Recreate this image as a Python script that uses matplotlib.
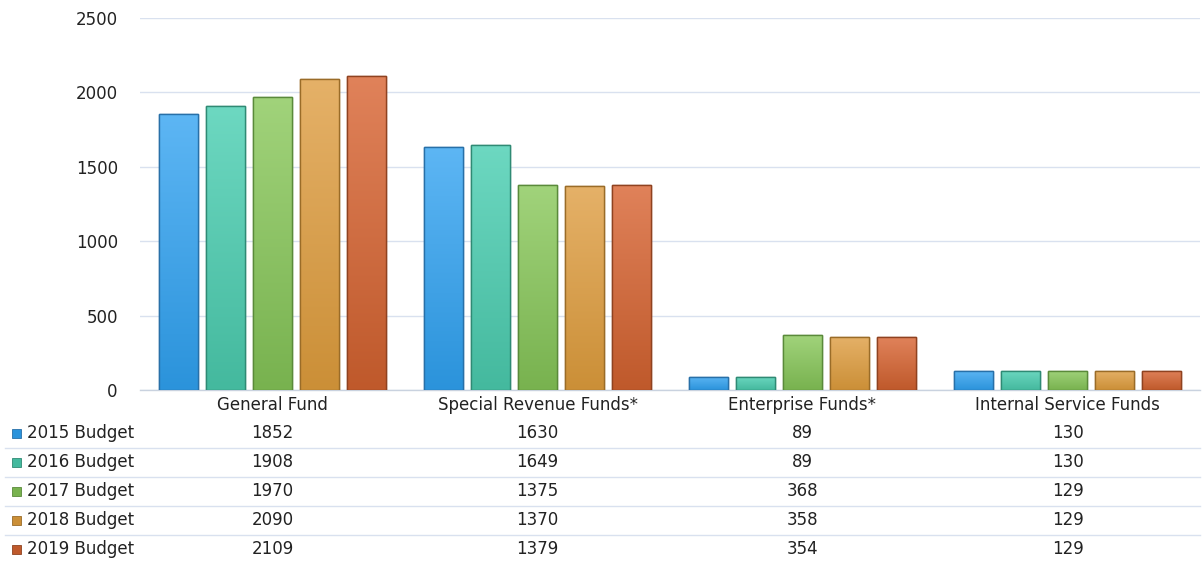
import matplotlib
matplotlib.use("Agg")
import matplotlib.pyplot as plt
import numpy as np
from matplotlib.colors import LinearSegmentedColormap
from matplotlib.patches import Rectangle
import matplotlib.transforms as mtrans

categories = ["General Fund", "Special Revenue Funds*", "Enterprise Funds*", "Internal Service Funds"]
series_names = ["2015 Budget", "2016 Budget", "2017 Budget", "2018 Budget", "2019 Budget"]
budget_2015 = [1852, 1630, 89, 130]
budget_2016 = [1908, 1649, 89, 130]
budget_2017 = [1970, 1375, 368, 129]
budget_2018 = [2090, 1370, 358, 129]
budget_2019 = [2109, 1379, 354, 129]
yticks = [0, 500, 1000, 1500, 2000, 2500]

series = [budget_2015, budget_2016, budget_2017, budget_2018, budget_2019]
tops = ["#5db6f4", "#6dd8c1", "#a1d37b", "#e5b168", "#e0825a"]
bottoms = ["#2b93db", "#44b99e", "#78b24f", "#cb8f37", "#bf592b"]
edges = ["#2870a8", "#2f8a74", "#5a8a3a", "#9a6c28", "#8f4220"]

plt.rcParams["font.family"] = ["DejaVu Sans"]
W, H = 1204, 561
fig = plt.figure(figsize=(W / 100, H / 100), dpi=100)
ax = fig.add_axes([140 / W, 1 - 390 / H, 1060 / W, 372 / H])

n = len(series)
step = 0.177
width = 0.145
x = np.arange(len(categories))
for i, vals in enumerate(series):
    pos = x + (i - (n - 1) / 2) * step
    bars = ax.bar(pos, vals, width, color=tops[i], edgecolor=edges[i], linewidth=1.0, zorder=3)
    cmap = LinearSegmentedColormap.from_list(f"g{i}", [bottoms[i], tops[i]])
    grad = np.linspace(0, 1, 256).reshape(-1, 1)
    for b in bars:
        bx, by = b.get_x(), b.get_y()
        bw, bh = b.get_width(), b.get_height()
        im = ax.imshow(grad, cmap=cmap, aspect="auto", origin="lower",
                       extent=[bx, bx + bw, by, by + bh], zorder=3.5)
        im.set_clip_path(b)
        ax.add_patch(Rectangle((bx, by), bw, bh, fill=False, edgecolor=edges[i],
                               linewidth=1.0, zorder=4))

ax.set_xlim(-0.5, len(categories) - 0.5)
ax.set_ylim(0, 2500)
ax.set_yticks(yticks)
ax.set_yticklabels([str(t) for t in yticks], fontsize=12, color="#222222")
ax.tick_params(axis="y", length=0, pad=16)
ax.tick_params(axis="x", length=0)
ax.set_xticks([])
ax.grid(axis="y", color="#d9e1ef", linewidth=1.0, zorder=0)
ax.set_axisbelow(True)
for s in ["top", "right", "left"]:
    ax.spines[s].set_visible(False)
ax.spines["bottom"].set_color("#c9d2df")
ax.spines["bottom"].set_linewidth(1.0)

# data table
trans = mtrans.blended_transform_factory(ax.transData, fig.transFigure)
def fy(py):
    return 1 - py / H

for j, c in enumerate(categories):
    ax.text(x[j], fy(405), c, transform=trans, ha="center", va="center",
            fontsize=12, color="#222222", clip_on=False)

row_y = [433, 462, 491, 520, 549]
for i, name in enumerate(series_names):
    fig.text(27 / W, fy(row_y[i]), name, ha="left", va="center", fontsize=12, color="#222222")
    fig.patches.append(Rectangle((12 / W, fy(row_y[i] + 5)), 9 / W, 9 / H,
                                 transform=fig.transFigure, facecolor=bottoms[i],
                                 edgecolor=edges[i], linewidth=0.6, figure=fig))
    for j in range(len(categories)):
        ax.text(x[j], fy(row_y[i]), str(series[i][j]), transform=trans, ha="center",
                va="center", fontsize=12, color="#222222", clip_on=False)

for ly in [448, 477, 506, 535]:
    fig.add_artist(plt.Line2D([5 / W, 1200 / W], [fy(ly), fy(ly)], transform=fig.transFigure,
                              color="#d9e1ef", linewidth=1.0))

fig.savefig("out.png", dpi=100)
